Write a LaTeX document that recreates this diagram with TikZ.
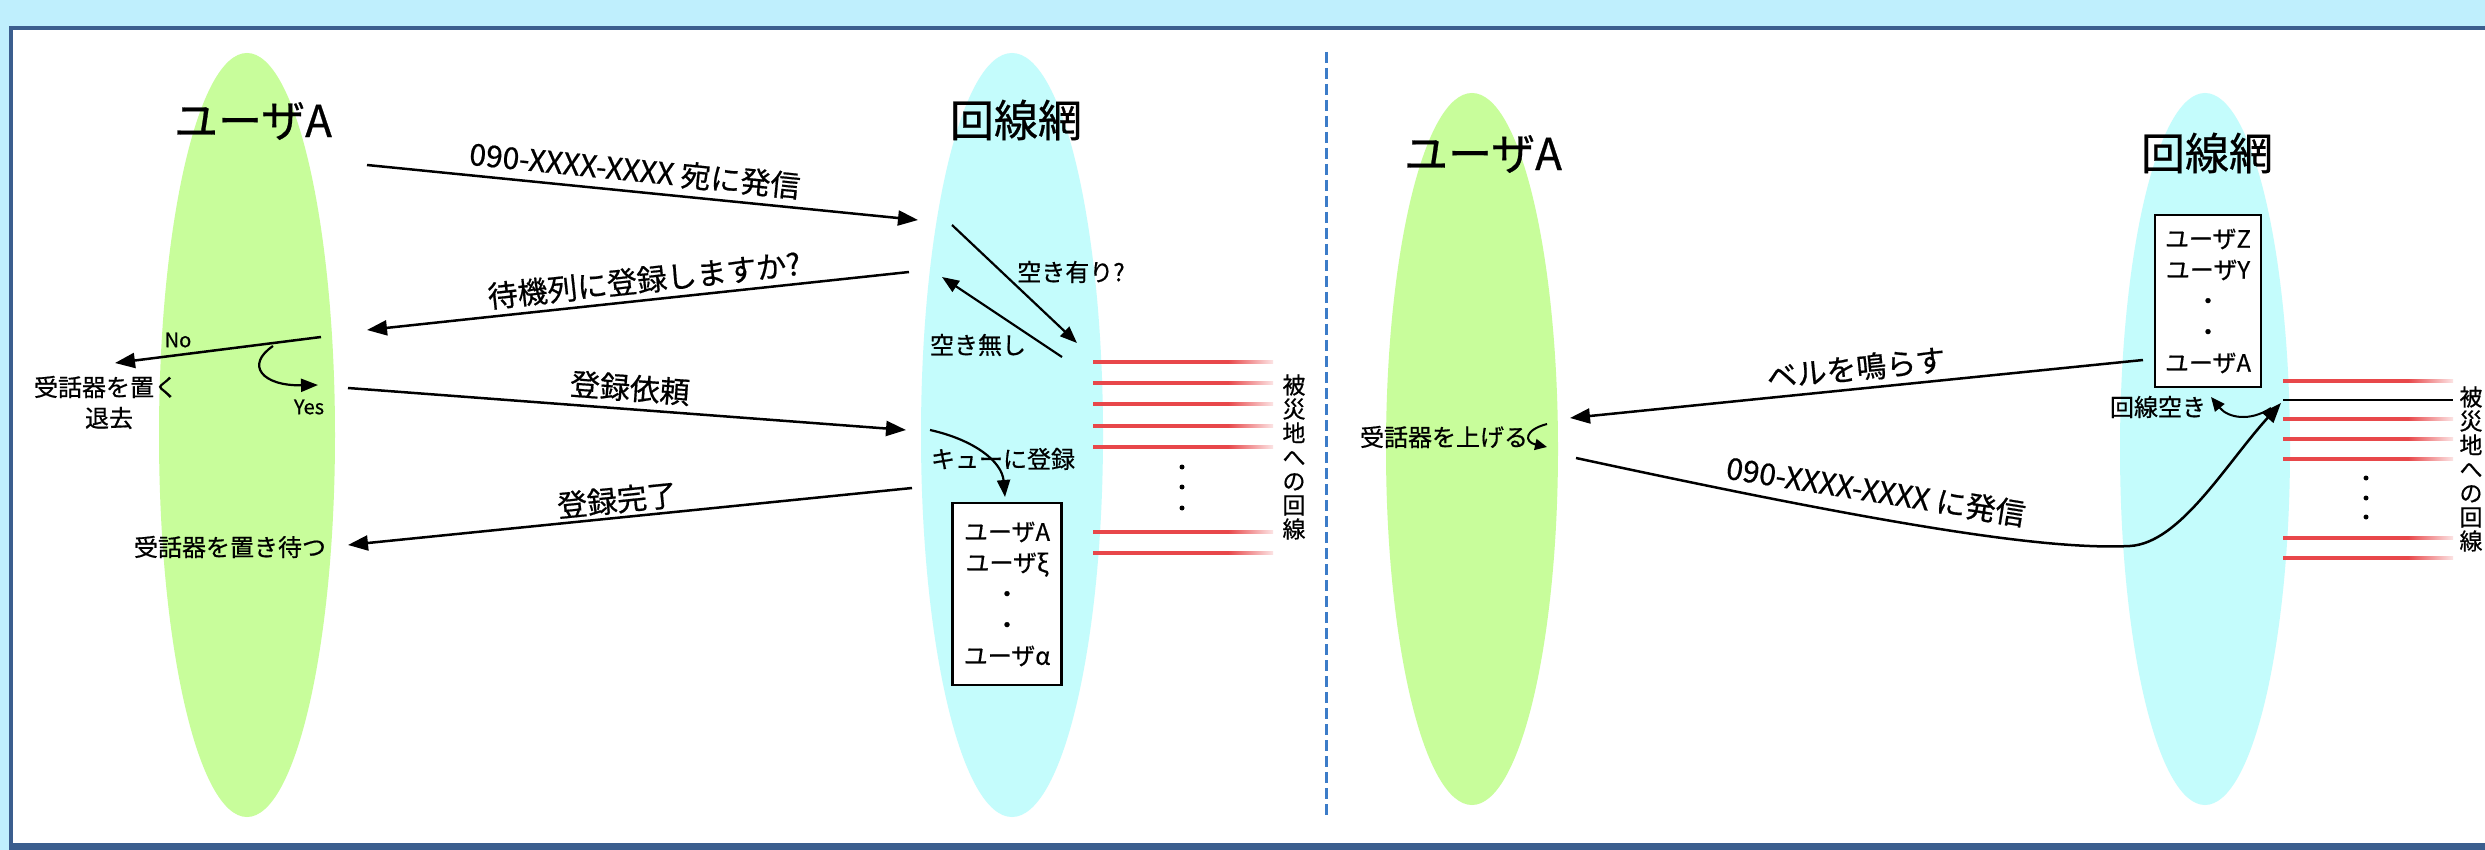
\documentclass[tikz,border=0pt]{standalone}
\usepackage{fontspec}
\setmainfont{Noto Sans CJK JP}[FakeBold=0.6]
\usetikzlibrary{arrows.meta,shapes.geometric}
\definecolor{ugreen}{HTML}{C8FD9B}
\definecolor{ncyan}{HTML}{C4FCFC}
\definecolor{bandblue}{HTML}{BFEFFD}
\definecolor{frameblue}{HTML}{3B5E8E}
\definecolor{dashblue}{HTML}{3C7CC8}
\definecolor{lred}{HTML}{E8474A}
\tikzset{
  ttl/.style={inner sep=0pt, font=\fontsize{44}{48}\selectfont},
  lbl/.style={inner sep=0pt, font=\fontsize{30}{32}\selectfont},
  sm/.style={inner sep=0pt, font=\fontsize{24}{26}\selectfont},
  tiny/.style={inner sep=0pt, font=\fontsize{20}{22}\selectfont},
  vtext/.style={inner sep=0pt, align=center, font=\fontsize{23}{24}\selectfont},
  arr/.style={line width=2.5pt, -{Triangle[length=20pt,width=15pt]}},
  sarr/.style={line width=2.2pt, -{Triangle[length=17pt,width=13pt]}},
  qbox/.style={draw, line width=2.5pt, fill=white, minimum width=109pt, align=center, inner sep=0pt, font=\fontsize{24}{31}\selectfont},
  zone/.style={ellipse, inner sep=0pt},
}
\newcommand{\redline}[3]{%
  \fill[lred] (#1,#3-1.6) rectangle (#2-45,#3+1.6);
  \shade[left color=lred, right color=lred!15] (#2-45,#3-1.6) rectangle (#2,#3+1.6);}
\begin{document}
\begin{tikzpicture}[x=1pt,y=-1pt]
\useasboundingbox (0,0) rectangle (2485,850);
% frame
\fill[bandblue] (0,0) rectangle (2485,850);
\fill[white] (11,28) rectangle (2485,845);
\draw[frameblue, line width=4pt] (2485,28) -- (11,28) -- (11,845);
\fill[frameblue] (9,843) rectangle (2485,850);
% divider
\draw[dashblue, line width=3pt, dash pattern=on 11pt off 5pt] (1326,52) -- (1326,818);

% ===== left panel =====
\node[zone, fill=ugreen, minimum width=176pt, minimum height=764pt] (uA) at (247,435) {};
\node[zone, fill=ncyan, minimum width=182pt, minimum height=764pt] (net) at (1012,435) {};
\node[ttl] (tUA) at (253,121) {ユーザA};
\node[ttl] (tNet) at (1016,120) {回線網};

% red lines
\foreach \yy in {362,383,404,426,447,532,553} {\redline{1093}{1273}{\yy}}
\foreach \yy in {467,487,508} {\fill (1182,\yy) circle (2.5pt);}
\node[vtext] (v1) at (1294,457) {被\\災\\地\\へ\\の\\回\\線};

% arrow endpoints
\coordinate (a1s) at (367,165); \coordinate (a1e) at (918,220);
\coordinate (a2s) at (909,272); \coordinate (a2e) at (367,330);
\coordinate (nos) at (321,337); \coordinate (noe) at (115,363);
\coordinate (ys) at (273,346);  \coordinate (ye) at (318,385);
\coordinate (a3s) at (348,388); \coordinate (a3e) at (906,430);
\coordinate (a4s) at (912,488); \coordinate (a4e) at (348,545);
\coordinate (k1s) at (952,225); \coordinate (k1e) at (1077,343);
\coordinate (k2s) at (1062,357); \coordinate (k2e) at (942,277);
\coordinate (qs) at (930,430); \coordinate (qe) at (1005,497);

\draw[arr] (a1s) -- (a1e);
\draw[arr] (a2s) -- (a2e);
\draw[arr] (nos) -- (noe);
\draw[sarr] (ys) .. controls (245,365) and (262,386) .. (ye);
\draw[arr] (a3s) -- (a3e);
\draw[arr] (a4s) -- (a4e);
\draw[sarr] (k1s) -- (k1e);
\draw[sarr] (k2s) -- (k2e);
\draw[sarr] (qs) .. controls (975,440) and (1002,462) .. (qe);

\node[lbl, rotate=-5.7] (l1) at (635,170) {090-XXXX-XXXX 宛に発信};
\node[lbl, rotate=6.1] (l2) at (644,280) {待機列に登録しますか?};
\node[tiny] (lno) at (178,340) {No};
\node[tiny] (lyes) at (309,407) {Yes};
\node[sm] (hang) at (106,387) {受話器を置く};
\node[sm] (leave) at (109,418) {退去};
\node[lbl, rotate=-4.3] (l3) at (630,388) {登録依頼};
\node[lbl, rotate=5.8] (l4) at (617,500) {登録完了};
\node[sm] (wait) at (230,547) {受話器を置き待つ};
\node[sm] (k1l) at (1071,272) {空き有り?};
\node[sm] (k2l) at (978,345) {空き無し};
\node[sm] (ql) at (1003,459) {キューに登録};
\node[qbox, minimum height=182pt] (q1) at (1007,594) {ユーザA\\ユーザξ\\・\\・\\ユーザα};

% ===== right panel =====
\node[zone, fill=ugreen, minimum width=172pt, minimum height=712pt] (uA2) at (1472,449) {};
\node[zone, fill=ncyan, minimum width=170pt, minimum height=712pt] (net2) at (2205,449) {};
\node[ttl] (tUA2) at (1483,154) {ユーザA};
\node[ttl] (tNet2) at (2207,153) {回線網};

\foreach \yy in {381,419,439,459,538,558} {\redline{2283}{2453}{\yy}}
\coordinate (freeL) at (2283,400); \coordinate (freeR) at (2453,400);
\draw[line width=2pt] (freeL) -- (freeR);
\foreach \yy in {478,498,517} {\fill (2366,\yy) circle (2.5pt);}
\node[vtext] (v2) at (2471,469) {被\\災\\地\\へ\\の\\回\\線};

\node[qbox, minimum width=106pt, minimum height=172pt] (q2) at (2208,301) {ユーザZ\\ユーザY\\・\\・\\ユーザA};

\coordinate (bs) at (2143,360); \coordinate (be) at (1570,418);
\draw[arr] (bs) -- (be);
\node[lbl, rotate=5.8] (bl) at (1856,368) {ベルを鳴らす};

\node[sm] (pick) at (1444,437) {受話器を上げる};
\coordinate (hs) at (1547,424); \coordinate (he) at (1547,447);
\draw[line width=2pt, -{Triangle[length=12pt,width=11pt]}] (hs) .. controls (1524,430) and (1524,442) .. (he);

\coordinate (cs) at (1576,458); \coordinate (cm) at (2130,546); \coordinate (ce) at (2281,403);
\draw[arr] (cs) .. controls (1900,528) and (2050,550) .. (cm) .. controls (2180,543) and (2225,465) .. (ce);
\node[lbl, rotate=-9] (cl) at (1876,491) {090-XXXX-XXXX に発信};

\node[sm] (free) at (2158,407) {回線空き};
\coordinate (fs) at (2271,408); \coordinate (fe) at (2211,397);
\draw[line width=2pt, -{Triangle[length=14pt,width=12pt]}] (fs) .. controls (2250,422) and (2228,418) .. (fe);
\end{tikzpicture}
\end{document}
